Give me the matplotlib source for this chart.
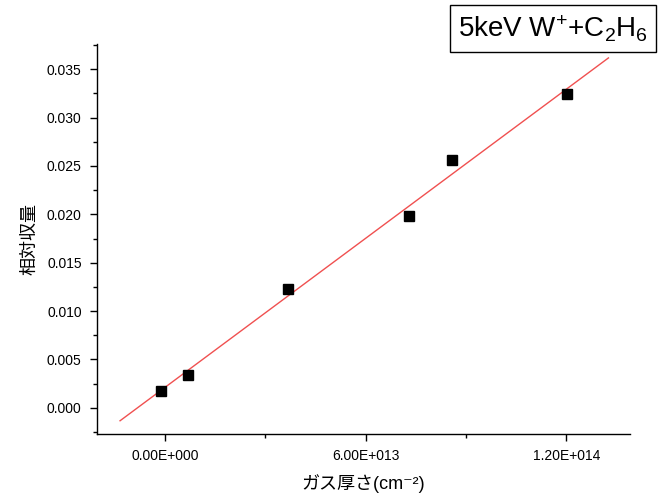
import numpy as np
import matplotlib
matplotlib.use("Agg")
import matplotlib.pyplot as plt
from matplotlib.ticker import FuncFormatter, MultipleLocator

plt.rcParams['font.family'] = ['Liberation Sans', 'Noto Sans CJK JP', 'DejaVu Sans']
plt.rcParams['mathtext.fontset'] = 'custom'
plt.rcParams['mathtext.rm'] = 'Liberation Sans'
plt.rcParams['mathtext.it'] = 'Liberation Sans'
plt.rcParams['mathtext.bf'] = 'Liberation Sans:bold'

thickness = [-1.2e12, 6.9e12, 3.66e13, 7.29e13, 8.58e13, 1.203e14]
rel_yield = [0.00176, 0.0034, 0.01229, 0.0198, 0.0256, 0.0324]
fit_range = [-1.35e13, 1.326e14]
title = "5keV W$\\mathregular{^{+}}$+C$\\mathregular{_2}$H$\\mathregular{_6}$"
xlabel = "ガス厚さ(cm⁻²)"
ylabel = "相対収量"

fig = plt.figure(figsize=(6.63, 4.99), dpi=100)
ax = fig.add_axes([0.1463, 0.1303, 0.8037, 0.7815])

coef = np.polyfit(thickness, rel_yield, 1)
xf = np.array(fit_range)
ax.plot(xf, np.polyval(coef, xf), color='#f05050', lw=1.0, zorder=1)
ax.plot(thickness, rel_yield, 's', color='black', ms=7, zorder=2)

ax.set_xlim(-2.04e13, 1.39e14)
ax.set_ylim(-0.0027, 0.0376)

ax.xaxis.set_major_locator(MultipleLocator(6e13))
ax.xaxis.set_minor_locator(MultipleLocator(3e13))
ax.yaxis.set_major_locator(MultipleLocator(0.005))
ax.yaxis.set_minor_locator(MultipleLocator(0.0025))

def xfmt(v, pos):
    if abs(v) < 1:
        return "0.00E+000"
    e = int(np.floor(np.log10(abs(v))))
    m = v / 10**e
    return f"{m:.2f}E+{e:03d}"
ax.xaxis.set_major_formatter(FuncFormatter(xfmt))
ax.yaxis.set_major_formatter(FuncFormatter(lambda v, p: f"{v:.3f}"))

for s in ['top', 'right']:
    ax.spines[s].set_visible(False)
for s in ['left', 'bottom']:
    ax.spines[s].set_linewidth(1.0)

ax.tick_params(which='major', direction='out', length=5, width=1, labelsize=10, pad=6)
ax.tick_params(which='minor', direction='out', length=3, width=1)

ax.set_xlabel(xlabel, fontsize=13, labelpad=8)
ax.set_ylabel(ylabel, fontsize=13, labelpad=6)

fig.text(0.834, 0.943, title, fontsize=20, ha='center', va='center',
         bbox=dict(boxstyle='square,pad=0.3', fc='white', ec='black', lw=1))

fig.savefig("out.png", dpi=100)
